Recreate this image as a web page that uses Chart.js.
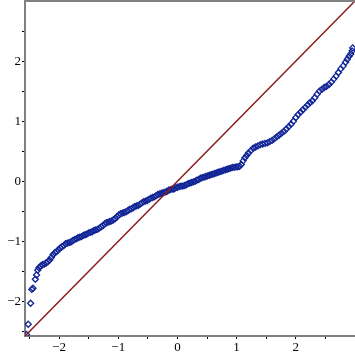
<!DOCTYPE html>
<html>
<head>
<meta charset="utf-8">
<script src="https://cdn.jsdelivr.net/npm/chart.js@4/dist/chart.umd.min.js"></script>
<style>
  html, body { margin: 0; padding: 0; background: #fff; }
  #wrap { width: 355px; height: 355px; }
</style>
</head>
<body>
<div id="wrap"><canvas id="qq"></canvas></div>
<script>
// sample quantiles vs theoretical quantiles
const qqX = [
  -2.55, -2.52, -2.48, -2.46, -2.44, -2.40, -2.38, -2.36, -2.34, -2.31,
  -2.28, -2.25, -2.22, -2.19, -2.16, -2.13, -2.10, -2.07, -2.04, -2.01,
  -1.98, -1.95, -1.92, -1.89, -1.86, -1.83, -1.80, -1.77, -1.74, -1.71,
  -1.68, -1.65, -1.62, -1.59, -1.56, -1.53, -1.50, -1.47, -1.44, -1.41,
  -1.38, -1.35, -1.32, -1.29, -1.26, -1.23, -1.20, -1.17, -1.14, -1.11,
  -1.08, -1.05, -1.02, -0.99, -0.96, -0.93, -0.90, -0.87, -0.84, -0.81,
  -0.78, -0.75, -0.72, -0.69, -0.66, -0.63, -0.60, -0.57, -0.54, -0.51,
  -0.48, -0.45, -0.42, -0.39, -0.36, -0.33, -0.30, -0.27, -0.24, -0.21,
  -0.18, -0.15, -0.12, -0.09, -0.06, -0.03, 0.00, 0.03, 0.06, 0.09,
  0.12, 0.15, 0.18, 0.21, 0.24, 0.27, 0.30, 0.33, 0.36, 0.39,
  0.42, 0.45, 0.48, 0.51, 0.54, 0.57, 0.60, 0.63, 0.66, 0.69,
  0.72, 0.75, 0.78, 0.81, 0.84, 0.87, 0.90, 0.93, 0.96, 0.99,
  1.02, 1.05, 1.08, 1.11, 1.14, 1.17, 1.20, 1.24, 1.28, 1.32,
  1.36, 1.40, 1.44, 1.48, 1.52, 1.56, 1.60, 1.64, 1.68, 1.72,
  1.76, 1.80, 1.84, 1.88, 1.92, 1.96, 2.00, 2.04, 2.08, 2.12,
  2.16, 2.20, 2.24, 2.28, 2.32, 2.36, 2.40, 2.44, 2.48, 2.52,
  2.56, 2.60, 2.64, 2.68, 2.72, 2.76, 2.80, 2.84, 2.87, 2.90,
  2.93, 2.95, 2.96
];
const qqY = [
  -2.55, -2.38, -2.03, -1.80, -1.78, -1.63, -1.56, -1.48, -1.44, -1.41,
  -1.39, -1.38, -1.36, -1.34, -1.31, -1.27, -1.22, -1.19, -1.17, -1.14,
  -1.11, -1.09, -1.07, -1.04, -1.03, -1.02, -1.01, -0.99, -0.97, -0.96,
  -0.94, -0.93, -0.92, -0.90, -0.89, -0.88, -0.86, -0.85, -0.84, -0.82,
  -0.81, -0.80, -0.78, -0.76, -0.74, -0.71, -0.69, -0.68, -0.67, -0.66,
  -0.64, -0.62, -0.59, -0.56, -0.54, -0.53, -0.52, -0.51, -0.49, -0.47,
  -0.46, -0.44, -0.42, -0.41, -0.40, -0.38, -0.36, -0.34, -0.33, -0.32,
  -0.30, -0.28, -0.27, -0.26, -0.24, -0.22, -0.21, -0.20, -0.19, -0.18,
  -0.17, -0.15, -0.14, -0.13, -0.13, -0.11, -0.10, -0.09, -0.08, -0.08,
  -0.07, -0.06, -0.04, -0.03, -0.02, -0.01, 0.00, 0.02, 0.03, 0.05,
  0.06, 0.07, 0.08, 0.09, 0.10, 0.11, 0.12, 0.13, 0.14, 0.15,
  0.16, 0.17, 0.18, 0.19, 0.20, 0.21, 0.22, 0.23, 0.23, 0.24,
  0.24, 0.25, 0.28, 0.34, 0.39, 0.43, 0.47, 0.51, 0.55, 0.57,
  0.59, 0.61, 0.62, 0.63, 0.64, 0.66, 0.68, 0.71, 0.74, 0.77,
  0.80, 0.83, 0.87, 0.91, 0.95, 1.00, 1.06, 1.11, 1.15, 1.19,
  1.23, 1.27, 1.31, 1.34, 1.39, 1.45, 1.50, 1.53, 1.56, 1.58,
  1.61, 1.65, 1.70, 1.75, 1.81, 1.87, 1.92, 1.98, 2.03, 2.08,
  2.12, 2.17, 2.22
];
// reference line y = x over the plotted range
const refLine = [-2.575, 3.0];
const tickValues = [-2.5, -2, -1.5, -1, -0.5, 0, 0.5, 1, 1.5, 2, 2.5];

const axisMin = refLine[0];
const axisMax = refLine[1];

const points = qqX.map((x, i) => ({ x: x, y: qqY[i] }));
const linePts = refLine.map(v => ({ x: v, y: v }));

function tickLabel(v) {
    if (!Number.isInteger(v)) return '';
    return v < 0 ? '\u2212' + Math.abs(v) : String(v);
}

function axisOpts(isX) {
    return {
        type: 'linear',
        min: axisMin,
        max: axisMax,
        afterBuildTicks: s => { s.ticks = tickValues.map(v => ({ value: v })); },
        afterFit: s => {
            if (isX) s.height = 19; else s.width = 25;
            // no extra room for the end labels
            s.paddingLeft = 0; s.paddingRight = 0;
            s.paddingTop = 0; s.paddingBottom = 0;
        },
        border: { display: true, color: '#808080', width: 2 },
        grid: { drawOnChartArea: false, drawTicks: true, tickLength: 3, color: '#000', tickWidth: 1 },
        ticks: {
            autoSkip: false,
            maxRotation: 0,
            padding: 1,
            color: '#000',
            font: { family: '"Liberation Serif", serif', size: 13 },
            callback: v => tickLabel(v)
        }
    };
}

// grey frame line along the top of the plot
const topBorder = {
    id: 'topBorder',
    afterDraw(chart) {
        const { ctx, chartArea } = chart;
        ctx.save();
        ctx.strokeStyle = '#808080';
        ctx.lineWidth = 2;
        ctx.beginPath();
        ctx.moveTo(chartArea.left, chartArea.top);
        ctx.lineTo(chartArea.right, chartArea.top);
        ctx.stroke();
        ctx.restore();
    }
};

new Chart(document.getElementById('qq'), {
    type: 'scatter',
    data: {
        datasets: [{
            data: linePts,
            showLine: true,
            borderColor: '#8b1a1a',
            borderWidth: 1.5,
            pointRadius: 0
        }, {
            data: points,
            pointStyle: 'rectRot',
            pointRadius: 3,
            pointBorderWidth: 1.3,
            pointBorderColor: '#122596',
            pointBackgroundColor: 'rgba(255,255,255,0)'
        }]
    },
    options: {
        responsive: true,
        maintainAspectRatio: false,
        animation: false,
        layout: { autoPadding: false, padding: { top: 1, right: 0, left: 0, bottom: 0 } },
        plugins: { legend: { display: false }, tooltip: { enabled: false } },
        scales: { x: axisOpts(true), y: axisOpts(false) }
    },
    plugins: [topBorder]
});
</script>
</body>
</html>
